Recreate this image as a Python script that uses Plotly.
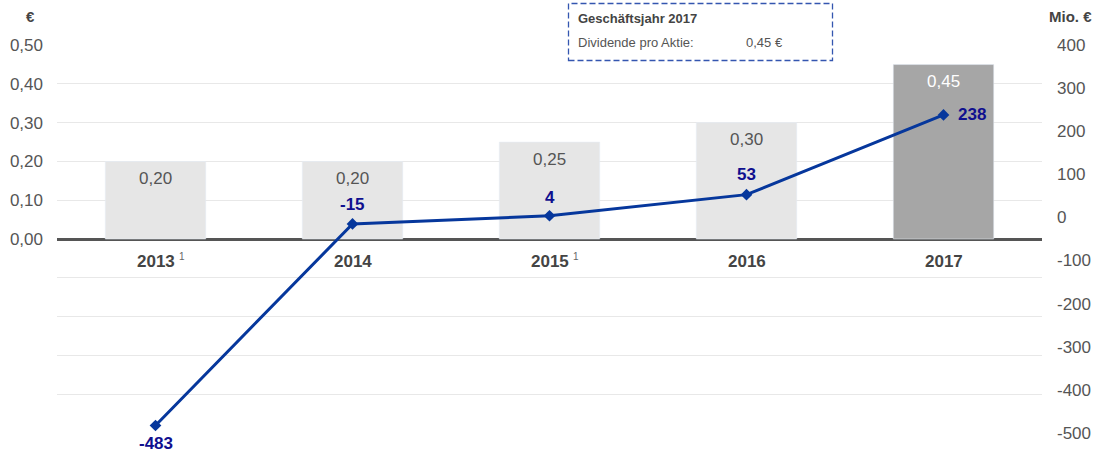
import plotly.graph_objects as go

years = ["2013", "2014", "2015", "2016", "2017"]
footnotes = ["1", "", "1", "", ""]
dividend = [0.20, 0.20, 0.25, 0.30, 0.45]
result = [-483, -15, 4, 53, 238]
bar_colors = ["#e6e6e6", "#e6e6e6", "#e6e6e6", "#e6e6e6", "#a6a6a6"]
bar_text_colors = ["#555555", "#555555", "#555555", "#555555", "#ffffff"]
left_ticks = [-0.5, -0.4, -0.3, -0.2, -0.1, 0.0, 0.1, 0.2, 0.3, 0.4, 0.5]
right_ticks = [-500, -400, -300, -200, -100, 0, 100, 200, 300, 400]

FONT = "Liberation Sans, Arial, sans-serif"
LINE_COLOR = "#06379c"
LABEL_BLUE = "#0f0f8f"

def de(v):
    return f"{v:.2f}".replace(".", ",")

def px_x(px):
    return (px - 57) / 985

def px_y(py):
    return (433 - py) / 388

fig = go.Figure()
fig.add_trace(go.Bar(
    x=years, y=dividend, marker_color=bar_colors, width=0.51,
    hoverinfo="skip", yaxis="y",
))
fig.add_trace(go.Scatter(
    x=years, y=result, yaxis="y2", mode="lines+markers",
    line=dict(color=LINE_COLOR, width=3),
    marker=dict(symbol="diamond", size=9, color=LINE_COLOR),
    hoverinfo="skip",
))

ann = []
# bar value labels
for i, (v, c) in enumerate(zip(dividend, bar_text_colors)):
    ann.append(dict(x=i, y=v, xref="x", yref="y", text=de(v), showarrow=False,
                    yshift=-17, font=dict(size=17, color=c, family=FONT)))
# line value labels
offsets = [(0, -18), (0, 19), (0, 18), (0, 20), (28, 0)]
for i, (v, (dx, dy)) in enumerate(zip(result, offsets)):
    ann.append(dict(x=i, y=v, xref="x", yref="y2", text=f"<b>{v}</b>", showarrow=False,
                    xshift=dx, yshift=dy, font=dict(size=17, color=LABEL_BLUE, family=FONT)))
# category labels
for i, (yr, fn) in enumerate(zip(years, footnotes)):
    ann.append(dict(x=i, y=0, xref="x", yref="y", text=f"<b>{yr}</b>", showarrow=False,
                    yshift=-22, font=dict(size=17, color="#444444", family=FONT)))
    if fn:
        ann.append(dict(x=i, y=0, xref="x", yref="y", text=fn, showarrow=False,
                        xshift=26, yshift=-17, font=dict(size=10, color="#666666", family=FONT)))
# axis unit titles
ann.append(dict(x=px_x(30), y=px_y(16), xref="paper", yref="paper", text="<b>€</b>",
                xanchor="center", yanchor="middle",
                showarrow=False, font=dict(size=15, color="#444444", family=FONT)))
ann.append(dict(x=px_x(1070), y=px_y(16), xref="paper", yref="paper",
                xanchor="center", yanchor="middle",
                text="<b>Mio. €</b>", showarrow=False, font=dict(size=15, color="#444444", family=FONT)))
# info box texts
ann.append(dict(x=px_x(576), y=px_y(18), xref="paper", yref="paper", xanchor="left", yanchor="middle",
                text="<b>Geschäftsjahr 2017</b>", showarrow=False, font=dict(size=13, color="#444444", family=FONT)))
ann.append(dict(x=px_x(576), y=px_y(42), xref="paper", yref="paper", xanchor="left", yanchor="middle",
                text="Dividende pro Aktie:", showarrow=False, font=dict(size=13, color="#555555", family=FONT)))
ann.append(dict(x=px_x(744), y=px_y(42), xref="paper", yref="paper", xanchor="left", yanchor="middle",
                text=de(dividend[-1]) + " €", showarrow=False, font=dict(size=13, color="#555555", family=FONT)))

shapes = [dict(type="rect", xref="paper", yref="paper",
               x0=px_x(568.5), x1=px_x(832.5), y0=px_y(60.5), y1=px_y(3.5),
               line=dict(color="#3456b0", width=1.3, dash="6px,3px"), fillcolor="rgba(0,0,0,0)")]

fig.update_layout(
    width=1095, height=452,
    margin=dict(l=57, r=53, t=45, b=19, autoexpand=False),
    plot_bgcolor="white", paper_bgcolor="white",
    showlegend=False,
    font=dict(family=FONT, color="#555555"),
    xaxis=dict(type="category", range=[-0.5, 4.5], showticklabels=False, showgrid=False,
               zeroline=False, showline=False, fixedrange=True, automargin=False),
    yaxis=dict(range=[-0.5005, 0.5005], tickvals=left_ticks,
               ticktext=[de(v) if v >= 0 else "" for v in left_ticks],
               showgrid=True, gridcolor="#e8e8e8", gridwidth=1, automargin=False,
               zeroline=True, zerolinecolor="#555555", zerolinewidth=2.5,
               ticklabelstandoff=13, tickfont=dict(size=17, color="#555555")),
    yaxis2=dict(range=[-500.45, 400.45], tickvals=right_ticks, ticktext=[str(v) for v in right_ticks],
                overlaying="y", side="right", automargin=False,
                showgrid=False, zeroline=False, ticklabelstandoff=14,
                tickfont=dict(size=17, color="#555555")),
    annotations=ann,
    shapes=shapes,
)

fig.write_html("out.html", config={"displayModeBar": False},
               post_script="document.body.style.margin='0';")
